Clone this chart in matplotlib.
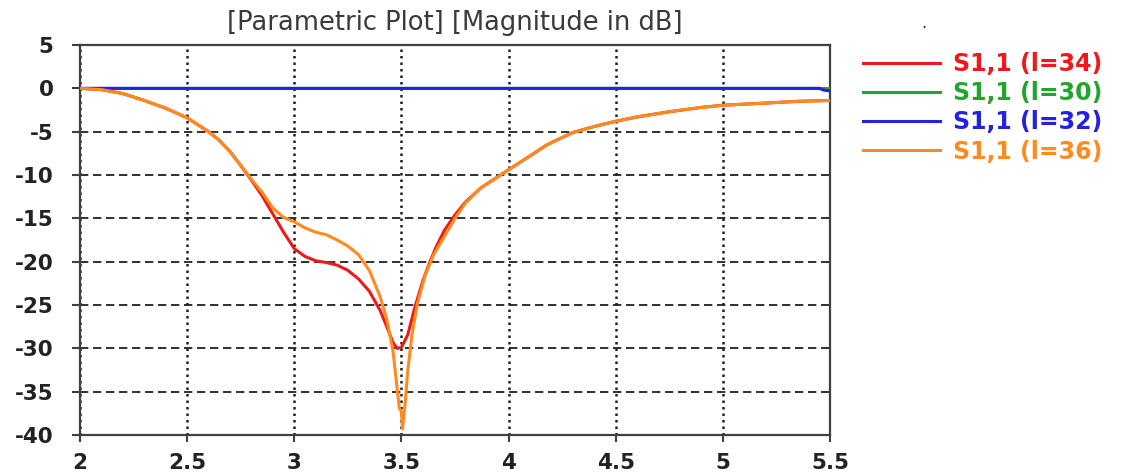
import matplotlib
matplotlib.use("Agg")
import matplotlib.pyplot as plt
from matplotlib.lines import Line2D

plt.rcParams["axes.unicode_minus"] = False

# ---------------- data ----------------
freq_l34 = [2.0, 2.1, 2.2, 2.3, 2.4, 2.5, 2.6, 2.65, 2.7, 2.75, 2.8, 2.85, 2.9, 2.95,
            3.0, 3.05, 3.1, 3.15, 3.2, 3.25, 3.3, 3.35, 3.4, 3.43, 3.46, 3.48, 3.5,
            3.53, 3.56, 3.6, 3.63, 3.66, 3.7, 3.75, 3.8, 3.87, 3.95, 4.0, 4.1, 4.18,
            4.3, 4.4, 4.5, 4.6, 4.75, 4.9, 5.0, 5.2, 5.35, 5.5]
s11_l34 = [0.0, -0.15, -0.6, -1.4, -2.3, -3.4, -5.0, -6.0, -7.3, -8.9, -10.6, -12.4,
           -14.5, -16.6, -18.5, -19.4, -19.9, -20.1, -20.4, -21.0, -22.0, -23.4,
           -25.6, -27.4, -29.3, -30.0, -29.9, -28.4, -25.5, -22.2, -20.2, -18.4,
           -16.4, -14.6, -13.1, -11.5, -10.2, -9.4, -7.8, -6.5, -5.1, -4.4, -3.8,
           -3.3, -2.7, -2.2, -1.95, -1.7, -1.5, -1.4]

freq_l36 = [2.0, 2.1, 2.2, 2.3, 2.4, 2.5, 2.6, 2.65, 2.7, 2.75, 2.8, 2.85, 2.9, 2.95,
            3.0, 3.05, 3.1, 3.15, 3.2, 3.25, 3.3, 3.35, 3.4, 3.43, 3.46, 3.475,
            3.49, 3.5, 3.505, 3.515, 3.53, 3.55, 3.575, 3.61, 3.65, 3.7, 3.75, 3.8,
            3.87, 3.95, 4.0, 4.1, 4.18, 4.3, 4.4, 4.5, 4.6, 4.75, 4.9, 5.0, 5.2,
            5.35, 5.5]
s11_l36 = [0.0, -0.15, -0.6, -1.4, -2.3, -3.4, -5.0, -6.0, -7.3, -8.9, -10.5, -12.0,
           -13.8, -14.9, -15.4, -16.1, -16.6, -16.9, -17.5, -18.2, -19.2, -21.0,
           -24.0, -26.5, -30.2, -33.5, -36.9, -37.3, -39.3, -37.0, -32.5, -28.3,
           -24.8, -21.6, -19.2, -17.1, -15.0, -13.2, -11.5, -10.2, -9.4, -7.8,
           -6.5, -5.1, -4.4, -3.8, -3.3, -2.7, -2.2, -1.95, -1.7, -1.5, -1.4]

freq_l30 = [2.0, 5.5]
s11_l30 = [0.0, 0.0]

freq_l32 = [2.0, 5.0, 5.45, 5.47, 5.5]
s11_l32 = [0.0, 0.0, 0.0, -0.2, -0.3]

x_ticks = [2, 2.5, 3, 3.5, 4, 4.5, 5, 5.5]
x_tick_labels = ["2", "2.5", "3", "3.5", "4", "4.5", "5", "5.5"]
y_ticks = [5, 0, -5, -10, -15, -20, -25, -30, -35, -40]

title = "[Parametric Plot] [Magnitude in dB]"
labels = ["S1,1 (l=34)", "S1,1 (l=30)", "S1,1 (l=32)", "S1,1 (l=36)"]
colors = {"l34": "#F01818", "l30": "#22A52E", "l32": "#2222E0", "l36": "#FF8A1E"}

# ---------------- figure ----------------
W, H = 1124, 473
fig = plt.figure(figsize=(W / 100, H / 100), dpi=100)
ax = fig.add_axes([80 / W, 1 - 435 / H, 750 / W, 390 / H])

lw = 2.2
l30, = ax.plot(freq_l30, s11_l30, color=colors["l30"], lw=lw, zorder=3)
l32, = ax.plot(freq_l32, s11_l32, color=colors["l32"], lw=lw, zorder=4)
l34, = ax.plot(freq_l34, s11_l34, color=colors["l34"], lw=lw, zorder=5)
l36, = ax.plot(freq_l36, s11_l36, color=colors["l36"], lw=lw, zorder=6)

ax.set_xlim(2, 5.5)
ax.set_ylim(-40, 5)
ax.set_xticks(x_ticks)
ax.set_xticklabels(x_tick_labels)
ax.set_yticks(y_ticks)

# grid: dotted vertical, dashed horizontal
gcol = "#202020"
ax.xaxis.grid(True, color=gcol, linewidth=1.8, linestyle=(0, (1.0, 1.6)), zorder=1)
ax.yaxis.grid(True, color=gcol, linewidth=1.3, linestyle=(0, (4.6, 2.6)), zorder=1)
ax.set_axisbelow(True)

for s in ax.spines.values():
    s.set_color("#404040")
    s.set_linewidth(1.6)

ax.tick_params(axis="y", direction="out", length=6, width=1.5, color="#404040",
               pad=13, labelsize=15.5, labelcolor="#222222")
ax.tick_params(axis="x", direction="out", length=5, width=1.5, color="#404040",
               pad=8, labelsize=15.5, labelcolor="#222222")
for t in ax.get_xticklabels() + ax.get_yticklabels():
    t.set_fontweight("bold")

ax.set_title(title, fontsize=18.5, color="#3a3a3a", pad=11)

fig.text(924 / W, 1 - 28 / H, ".", fontsize=12, color="#333333", ha="center",
         va="baseline")

handles = [Line2D([], [], color=colors["l34"], lw=lw),
           Line2D([], [], color=colors["l30"], lw=lw),
           Line2D([], [], color=colors["l32"], lw=lw),
           Line2D([], [], color=colors["l36"], lw=lw)]
leg = fig.legend(handles, labels, loc="upper left",
                 bbox_to_anchor=(863 / W, 1 - 52 / H),
                 frameon=False, handlelength=3.26, handletextpad=0.55,
                 labelspacing=0.22, borderaxespad=0, borderpad=0,
                 prop={"weight": "bold", "size": 17},
                 labelcolor="linecolor")

fig.savefig("out.png", dpi=100)
